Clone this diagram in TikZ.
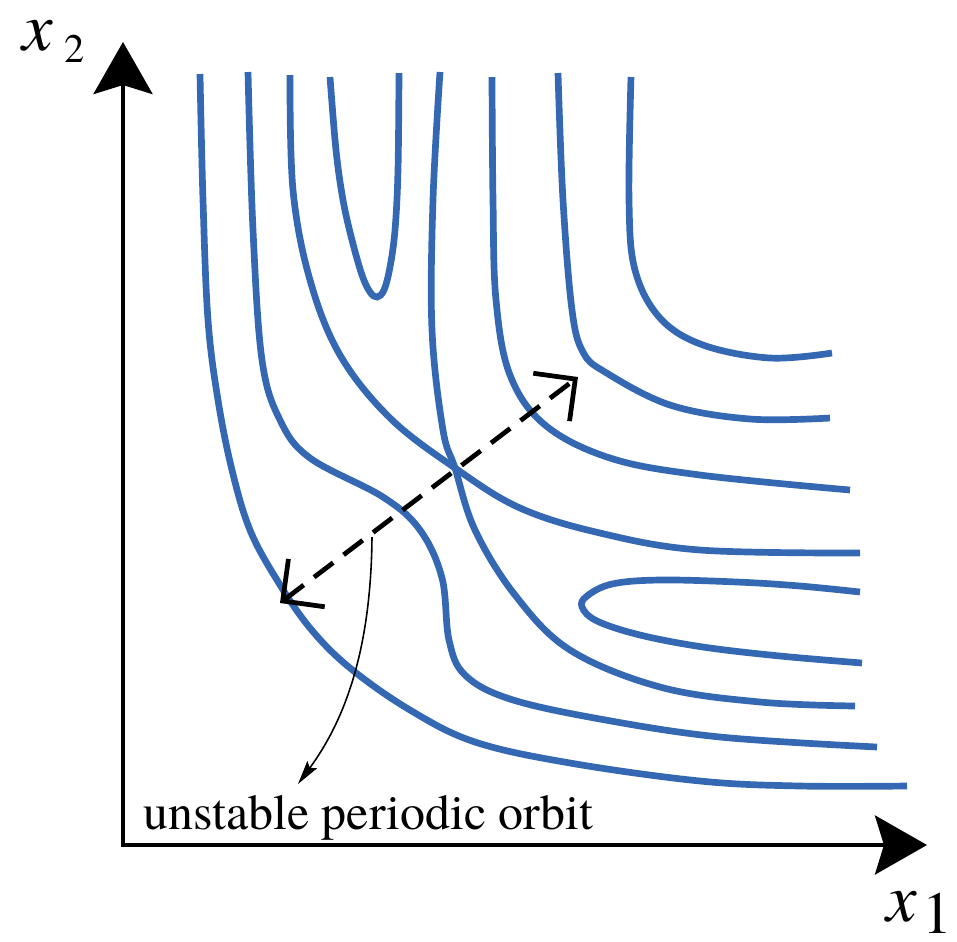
\documentclass[tikz,border=0pt]{standalone}
\usepackage{fontspec}
\setmainfont{texgyretermes}[
    Extension=.otf,
    UprightFont=*-regular,
    ItalicFont=*-italic,
    BoldFont=*-bold
]
\usepackage{xcolor}
\usetikzlibrary{arrows.meta}

\definecolor{isoblue}{RGB}{52,104,179}

\begin{document}
\begin{tikzpicture}[
    x=0.01cm,
    y=-0.01cm,
    axistip/.tip={Stealth[length=0.52cm,width=0.59cm,inset=0.09cm]},
    barbtip/.tip={Straight Barb[length=0.3cm,width=0.6cm]},
    pointtip/.tip={Stealth[length=0.24cm,width=0.12cm,inset=0.04cm]},
    isoline/.style={
        isoblue,
        line width=1.9pt
    },
    axis/.style={
        line width=1.15pt,
        line join=miter,
        axistip-axistip
    },
    flowarrow/.style={
        line width=1.35pt,
        dash pattern=on 0.24cm off 0.13cm,
        barbtip-barbtip
    },
    pointer/.style={
        line width=0.45pt,
        -pointtip
    },
    axislabel/.style={
        anchor=base west,
        inner sep=0pt,
        font=\fontsize{19.5pt}{20pt}\selectfont
    }
]

\useasboundingbox (0,0) rectangle (957,941);


\coordinate (origin) at (123,845);
\coordinate (ytip) at (123,42);
\coordinate (xtip) at (927,845);

\draw[axis] (ytip) -- (origin) -- (xtip);

\node[axislabel] (ylabel) at (22,50)
    {\textit{x}\kern0.11cm\raisebox{-0.12cm}{\fontsize{11.5pt}{12pt}\selectfont 2}};
\node[axislabel] (xlabel) at (886,921)
    {\textit{x}\kern0.05cm\raisebox{-0.12cm}{\fontsize{17pt}{17pt}\selectfont 1}};


\draw[isoline] plot[smooth, tension=0.6] coordinates {
    (200,74) (203,200) (208,320) (218,400) (232,470) (250,530) (277,580)
    (310,628) (350,668) (410,710) (475,742) (570,763) (700,781) (800,786) (907,786)};

\draw[isoline] plot[smooth, tension=0.6] coordinates {
    (248,72) (253,230) (262,360) (280,420) (310,458) (383,497) (420,530)
    (442,578) (449,640) (465,675) (510,699) (600,719) (720,737) (877,747)};

\draw[isoline] plot[smooth, tension=0.6] coordinates {
    (290,75) (293,190) (310,280) (340,355) (390,418) (455,468) (520,508)
    (600,533) (700,550) (860,553)};

\draw[isoline] plot[smooth, tension=0.6] coordinates {
    (440,72) (433,200) (432,330) (443,430) (455,468) (475,530) (515,595)
    (570,650) (660,687) (760,702) (855,706)};

\draw[isoline] plot[smooth, tension=0.6] coordinates {
    (330,77) (336,150) (343,200) (352,240) (362,275) (370,292) (377,297)
    (384,290) (390,267) (395,230) (398,170) (399,73)};

\draw[isoline] plot[smooth, tension=0.6] coordinates {
    (492,77) (493,200) (496,300) (510,375) (545,425) (610,458) (700,475) (850,490)};

\draw[isoline] plot[smooth, tension=0.6] coordinates {
    (558,73) (563,200) (572,310) (583,352) (605,372) (670,405) (750,419) (830,418)};

\draw[isoline] plot[smooth, tension=0.6] coordinates {
    (631,77) (629,200) (635,270) (660,318) (703,345) (770,358) (832,353)};

\draw[isoline] plot[smooth, tension=0.6] coordinates {
    (860,592) (800,586) (737,582) (660,580) (612,584) (587,596) (582,607)
    (597,621) (640,635) (703,647) (780,656) (862,663)};


\coordinate (lowtip) at (280,603);
\coordinate (hightip) at (578,377);
\draw[flowarrow] (lowtip) -- (hightip);


\node[anchor=base west, inner sep=0pt, font=\fontsize{14.2pt}{17pt}\selectfont]
    (orbitlabel) at (143,829) {unstable periodic orbit};

\coordinate (orbit) at (372,537);
\coordinate (orbitend) at (298,784);
\draw[pointer] (orbit) .. controls (371,650) and (345,720) .. (orbitend);

\end{tikzpicture}
\end{document}
